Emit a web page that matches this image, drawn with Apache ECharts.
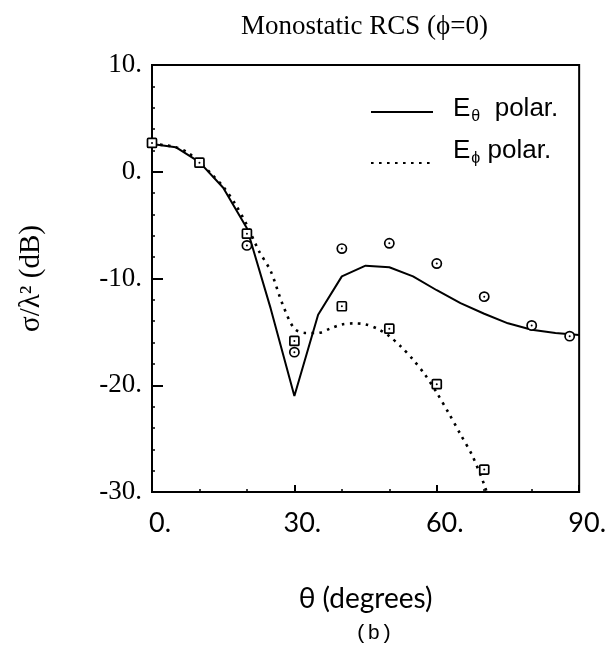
<!DOCTYPE html>
<html>
<head>
<meta charset="utf-8">
<script src="https://cdn.jsdelivr.net/npm/echarts@6/dist/echarts.min.js"></script>
<style>
  html, body { margin: 0; padding: 0; background: #fff; }
  #chart { width: 609px; height: 659px; }
</style>
</head>
<body>
<div id="chart"></div>
<script>
// Monostatic RCS vs. incidence angle, phi = 0 cut

// Calculated E-theta polarization (solid curve)
const thetaCalcAngles = [0, 5, 10, 15, 20, 25, 30, 35, 40, 45, 50, 55, 60, 65, 70, 75, 80, 85, 90];
const thetaCalcRcs    = [2.6, 2.3, 0.9, -1.5, -5.3, -12.8, -21.0, -13.4, -9.8, -8.8, -8.95, -9.8, -11.1, -12.3, -13.3, -14.2, -14.8, -15.1, -15.3];

// Calculated E-phi polarization (dotted curve)
const phiCalcAngles = [0, 2.5, 5, 7.5, 10, 12.5, 15, 17.5, 20, 22.5, 25, 27.5, 30, 32.5, 35, 37.5, 40, 42.5, 45, 47.5, 50, 52.5, 55, 57.5, 60, 62.5, 65, 67.5, 70, 70.5];
const phiCalcRcs    = [2.6, 2.5, 2.3, 1.8, 0.9, -0.2, -1.4, -3.0, -5.0, -7.4, -9.3, -12.4, -14.7, -15.1, -15.1, -14.7, -14.3, -14.2, -14.3, -14.7, -15.4, -16.4, -17.6, -19.0, -20.7, -22.6, -24.6, -26.6, -29.3, -30.0];

// Measured E-theta (circles)
const thetaMeasAngles = [20, 30, 40, 50, 60, 70, 80, 88];
const thetaMeasRcs    = [-6.9, -16.9, -7.2, -6.7, -8.6, -11.7, -14.4, -15.4];

// Measured E-phi (squares)
const phiMeasAngles = [0, 10, 20, 30, 40, 50, 60, 70];
const phiMeasRcs    = [2.7, 0.85, -5.8, -15.85, -12.6, -14.7, -19.9, -27.9];

// Axis ranges and ticks
const xRange = [0, 90], xStep = 30;
const yRange = [-30, 10], yStep = 10;

const zip = (a, b) => a.map((v, i) => [v, b[i]]);

const serif = '"Liberation Serif", "Times New Roman", serif';
const sans = '"Liberation Sans", Arial, sans-serif';
const human = 'Lato, "Open Sans", sans-serif';

function markerRenderer(kind) {
  return function (params, api) {
    const p = api.coord([api.value(0), api.value(1)]);
    const outline = kind === 'circle'
      ? { type: 'circle', shape: { cx: p[0], cy: p[1], r: 4.6 } }
      : { type: 'rect', shape: { x: p[0] - 4.5, y: p[1] - 4.5, width: 9, height: 9, r: 1 } };
    outline.style = { fill: '#fff', stroke: '#000', lineWidth: 1.7 };
    return {
      type: 'group',
      children: [
        outline,
        { type: 'circle', shape: { cx: p[0], cy: p[1], r: 1 }, style: { fill: '#000' } }
      ]
    };
  };
}

// Rich text for "E" with a subscript; b lifts the text above the key line
function legendRich(b) {
  return {
    e: { fontFamily: sans, fontSize: 26, color: '#000', padding: [0, 0, b, 15] },
    s: { fontFamily: sans, fontSize: 16, color: '#000', padding: [16, 0, b, 1] },
    p: { fontFamily: sans, fontSize: 26, color: '#000', padding: [0, 0, b, 0] }
  };
}

const chart = echarts.init(document.getElementById('chart'), null, { renderer: 'canvas' });

chart.setOption({
  animation: false,
  backgroundColor: '#fff',
  title: [
    {
      text: 'Monostatic RCS (\u03d5=0)',
      left: 236, top: 8,
      textStyle: { fontFamily: serif, fontSize: 27, fontWeight: 'normal', color: '#000' }
    },
    {
      text: '(b)',
      left: 350, top: 618,
      textStyle: { fontFamily: '"Liberation Mono", "Courier New", monospace', fontSize: 21, fontWeight: 'normal', color: '#000' }
    }
  ],
  legend: [
    {
      data: ['E\u03b8 polar.'],
      left: 365, top: 91, padding: 5,
      itemWidth: 62, itemHeight: 14,
      itemStyle: { opacity: 0 },
      formatter: () => '{e|E}{s|\u03b8}{p|  polar.}',
      textStyle: { rich: legendRich(6) },
      selectedMode: false
    },
    {
      data: ['E\u03d5 polar.'],
      left: 365, top: 133, padding: 5,
      itemWidth: 62, itemHeight: 14,
      itemStyle: { opacity: 0 },
      formatter: () => '{e|E}{s|\u03d5}{p| polar.}',
      textStyle: { rich: legendRich(24) },
      selectedMode: false
    }
  ],
  grid: {
    left: 152, right: 27, top: 65, bottom: 167,
    show: true, borderColor: '#000', borderWidth: 2, backgroundColor: 'transparent'
  },
  xAxis: {
    type: 'value',
    min: xRange[0], max: xRange[1], interval: xStep,
    name: '\u03b8 (degrees)',
    nameLocation: 'middle', nameGap: 93,
    nameTextStyle: { fontFamily: human, fontSize: 28, color: '#000' },
    axisLine: { show: true, onZero: false, lineStyle: { color: '#000', width: 2 } },
    axisTick: { show: true, inside: true, length: 7, lineStyle: { color: '#000', width: 2 } },
    minorTick: { show: true, splitNumber: 3, length: 3, lineStyle: { color: '#000', width: 1.5 } },
    axisLabel: { margin: 18, padding: [0, 0, 0, 16], fontFamily: human, fontSize: 27, color: '#000', formatter: v => v + '.' },
    splitLine: { show: false }
  },
  yAxis: {
    type: 'value',
    min: yRange[0], max: yRange[1], interval: yStep,
    name: '\u03c3/\u03bb\u00b2 (dB)',
    nameLocation: 'middle', nameGap: 106, nameRotate: 90,
    nameTextStyle: { fontFamily: serif, fontSize: 29, color: '#000' },
    axisLine: { show: true, onZero: false, lineStyle: { color: '#000', width: 2 } },
    axisTick: { show: true, inside: true, length: 11, lineStyle: { color: '#000', width: 2 } },
    minorTick: { show: true, splitNumber: 5, length: 3, lineStyle: { color: '#000', width: 1.5 } },
    axisLabel: { margin: 10, fontFamily: serif, fontSize: 27, color: '#000', formatter: v => v + '.' },
    splitLine: { show: false }
  },
  series: [
    {
      name: 'E\u03b8 polar.',
      type: 'line',
      data: zip(thetaCalcAngles, thetaCalcRcs),
      symbol: 'none',
      smooth: false,
      lineStyle: { color: '#000', width: 2 },
      itemStyle: { color: '#000' },
      z: 3
    },
    {
      name: 'E\u03d5 polar.',
      type: 'line',
      data: zip(phiCalcAngles, phiCalcRcs),
      symbol: 'none',
      smooth: 0.3,
      lineStyle: { color: '#000', width: 2.6, type: [2.6, 5.4] },
      itemStyle: { color: '#000' },
      z: 3
    },
    {
      name: 'measured theta',
      type: 'custom',
      data: zip(thetaMeasAngles, thetaMeasRcs),
      renderItem: markerRenderer('circle'),
      clip: false,
      z: 4
    },
    {
      name: 'measured phi',
      type: 'custom',
      data: zip(phiMeasAngles, phiMeasRcs),
      renderItem: markerRenderer('square'),
      clip: false,
      z: 5
    }
  ]
});
</script>
</body>
</html>
